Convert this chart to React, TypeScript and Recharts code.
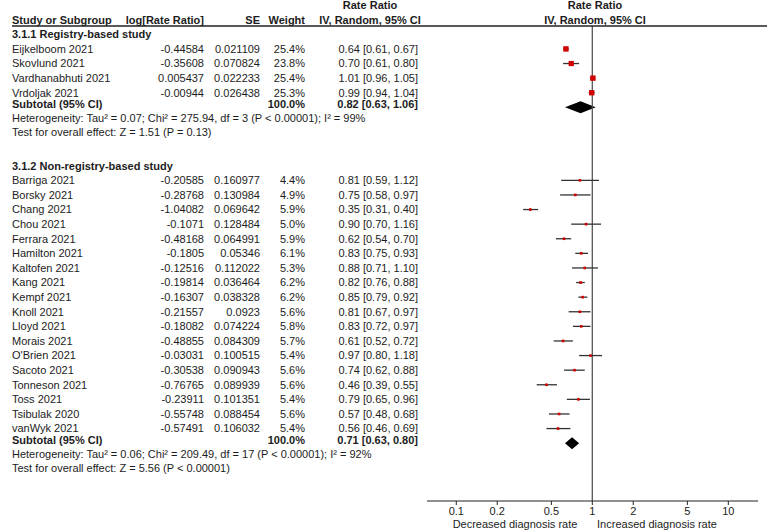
import { ComposedChart, XAxis, YAxis, Scatter, ReferenceLine, ReferenceArea } from "recharts";

const FONT = "'Liberation Sans', Arial, sans-serif";
const INK = "#1c1c1c";

// 3.1.1 Registry-based study
const regNames = ["Eijkelboom 2021", "Skovlund 2021", "Vardhanabhuti 2021", "Vrdoljak 2021"];
const regLogRR = ["-0.44584", "-0.35608", "0.005437", "-0.00944"];
const regSE = ["0.021109", "0.070824", "0.022233", "0.026438"];
const regWeight = [25.4, 23.8, 25.4, 25.3];
const regRR = [0.64, 0.7, 1.01, 0.99];
const regLo = [0.61, 0.61, 0.96, 0.94];
const regHi = [0.67, 0.8, 1.05, 1.04];
const regSubtotal = [0.82, 0.63, 1.06];
const regHet = "Heterogeneity: Tau\u00b2 = 0.07; Chi\u00b2 = 275.94, df = 3 (P < 0.00001); I\u00b2 = 99%";
const regTest = "Test for overall effect: Z = 1.51 (P = 0.13)";

// 3.1.2 Non-registry-based study
const nonNames = [
  "Barriga 2021", "Borsky 2021", "Chang 2021", "Chou 2021", "Ferrara 2021", "Hamilton 2021",
  "Kaltofen 2021", "Kang 2021", "Kempf 2021", "Knoll 2021", "Lloyd 2021", "Morais 2021",
  "O'Brien 2021", "Sacoto 2021", "Tonneson 2021", "Toss 2021", "Tsibulak 2020", "vanWyk 2021",
];
const nonLogRR = [
  "-0.20585", "-0.28768", "-1.04082", "-0.1071", "-0.48168", "-0.1805", "-0.12516", "-0.19814",
  "-0.16307", "-0.21557", "-0.18082", "-0.48855", "-0.03031", "-0.30538", "-0.76765", "-0.23911",
  "-0.55748", "-0.57491",
];
const nonSE = [
  "0.160977", "0.130984", "0.069642", "0.128484", "0.064991", "0.05346", "0.112022", "0.036464",
  "0.038328", "0.0923", "0.074224", "0.084309", "0.100515", "0.090943", "0.089939", "0.101351",
  "0.088454", "0.106032",
];
const nonWeight = [4.4, 4.9, 5.9, 5.0, 5.9, 6.1, 5.3, 6.2, 6.2, 5.6, 5.8, 5.7, 5.4, 5.6, 5.6, 5.4, 5.6, 5.4];
const nonRR = [0.81, 0.75, 0.35, 0.9, 0.62, 0.83, 0.88, 0.82, 0.85, 0.81, 0.83, 0.61, 0.97, 0.74, 0.46, 0.79, 0.57, 0.56];
const nonLo = [0.59, 0.58, 0.31, 0.7, 0.54, 0.75, 0.71, 0.76, 0.79, 0.67, 0.72, 0.52, 0.8, 0.62, 0.39, 0.65, 0.48, 0.46];
const nonHi = [1.12, 0.97, 0.4, 1.16, 0.7, 0.93, 1.1, 0.88, 0.92, 0.97, 0.97, 0.72, 1.18, 0.88, 0.55, 0.96, 0.68, 0.69];
const nonSubtotal = [0.71, 0.63, 0.8];
const nonHet = "Heterogeneity: Tau\u00b2 = 0.06; Chi\u00b2 = 209.49, df = 17 (P < 0.00001); I\u00b2 = 92%";
const nonTest = "Test for overall effect: Z = 5.56 (P < 0.00001)";

const xTicks = [0.1, 0.2, 0.5, 1, 2, 5, 10];

const ci = (rr: number, lo: number, hi: number) =>
  `${rr.toFixed(2)} [${lo.toFixed(2)}, ${hi.toFixed(2)}]`;

type Row = {
  row: number;
  kind: "group" | "study" | "subtotal" | "note";
  label: string;
  logrr?: string;
  se?: string;
  weight?: string;
  ci?: string;
};

type Study = { row: number; rr: number; lo: number; hi: number; w: number };

const tableRows: Row[] = [];
const studies: Study[] = [];
const subtotals: Study[] = [];

function addGroup(
  start: number, title: string, names: string[], logrr: string[], se: string[], w: number[],
  rr: number[], lo: number[], hi: number[], sub: number[], het: string, test: string,
) {
  tableRows.push({ row: start, kind: "group", label: title });
  names.forEach((n, i) => {
    const r = start + 1 + i;
    tableRows.push({
      row: r, kind: "study", label: n, logrr: logrr[i], se: se[i],
      weight: w[i].toFixed(1) + "%", ci: ci(rr[i], lo[i], hi[i]),
    });
    studies.push({ row: r, rr: rr[i], lo: lo[i], hi: hi[i], w: w[i] });
  });
  const last = start + names.length;
  tableRows.push({ row: last + 0.78, kind: "subtotal", label: "Subtotal (95% CI)", weight: "100.0%", ci: ci(sub[0], sub[1], sub[2]) });
  subtotals.push({ row: last + 1, rr: sub[0], lo: sub[1], hi: sub[2], w: 100 });
  tableRows.push({ row: last + 1.72, kind: "note", label: het });
  tableRows.push({ row: last + 2.72, kind: "note", label: test });
}

addGroup(0, "3.1.1 Registry-based study", regNames, regLogRR, regSE, regWeight, regRR, regLo, regHi, regSubtotal, regHet, regTest);
addGroup(9, "3.1.2 Non-registry-based study", nonNames, nonLogRR, nonSE, nonWeight, nonRR, nonLo, nonHi, nonSubtotal, nonHet, nonTest);

const COL_LOG = 204;
const COL_SE = 260;
const COL_W = 305;
const COL_CI = 418;
const FS = 11;

function RowTick(props: any) {
  const { y, payload } = props;
  const r = tableRows.find((t) => t.row === payload.value);
  if (!r) return null;
  const bold = r.kind === "group" || r.kind === "subtotal";
  const common = { y, dy: "0.35em", fontSize: FS, fontFamily: FONT, fill: INK, fontWeight: bold ? 700 : 400 };
  return (
    <g>
      <text x={12} textAnchor="start" {...common}>{r.label}</text>
      {r.logrr && <text x={COL_LOG} textAnchor="end" {...common}>{r.logrr}</text>}
      {r.se && <text x={COL_SE} textAnchor="end" {...common}>{r.se}</text>}
      {r.weight && <text x={COL_W} textAnchor="end" {...common}>{r.weight}</text>}
      {r.ci && <text x={COL_CI} textAnchor="end" {...common}>{r.ci}</text>}
    </g>
  );
}

function Square(props: any) {
  const { cx, cy, payload } = props;
  const s = Math.max(2.6, 5.4 * Math.sqrt(payload.w / 25.4));
  return <rect x={cx - s / 2} y={cy - s / 2} width={s} height={s} fill="#d10000" />;
}

const diamond = (d: Study) => (p: any) => {
  const { x, y, width, height } = p;
  const f = (Math.log(d.rr) - Math.log(d.lo)) / (Math.log(d.hi) - Math.log(d.lo));
  const cx = x + f * width;
  const pts = `${x},${y + height / 2} ${cx},${y} ${x + width},${y + height / 2} ${cx},${y + height}`;
  return <polygon points={pts} fill="#000" />;
};

export default function App() {
  const hdr = { fontSize: FS, fontFamily: FONT, fill: INK, fontWeight: 700 };
  return (
    <div style={{ position: "relative", width: 770, height: 531, background: "#fff" }}>
      <style>{"body{margin:0}"}</style>
      <ComposedChart width={770} height={531} margin={{ top: 26, right: 12, bottom: 0, left: 0 }}>
        <XAxis
          type="number"
          dataKey="rr"
          scale="log"
          domain={[0.0609, 16.53]}
          allowDataOverflow
          ticks={xTicks}
          interval={0}
          height={30}
          tickSize={4}
          tickMargin={2}
          axisLine={{ stroke: "#222", strokeWidth: 1.2 }}
          tickLine={{ stroke: "#222" }}
          tick={{ fontSize: 11, fontFamily: FONT, fill: INK }}
        />
        <YAxis
          type="number"
          dataKey="row"
          domain={[-0.57, 31.96]}
          allowDataOverflow
          reversed
          ticks={tableRows.map((t) => t.row)}
          interval={0}
          width={427}
          axisLine={false}
          tickLine={false}
          tick={<RowTick />}
        />
        <ReferenceLine x={1} stroke="#555" strokeWidth={1.3} />
        {studies.map((s, i) => (
          <ReferenceLine
            key={"ci" + i}
            segment={[{ x: s.lo, y: s.row }, { x: s.hi, y: s.row }]}
            stroke="#333"
            strokeWidth={1.3}
          />
        ))}
        {subtotals.map((s, i) => (
          <ReferenceArea
            key={"d" + i}
            x1={s.lo}
            x2={s.hi}
            y1={s.row - 0.41}
            y2={s.row + 0.41}
            shape={diamond(s)}
          />
        ))}
        <Scatter data={studies} dataKey="row" shape={<Square />} isAnimationActive={false} />
      </ComposedChart>
      <svg width={770} height={531} style={{ position: "absolute", left: 0, top: 0, pointerEvents: "none" }}>
        <text x={370} y={5} dy="0.35em" textAnchor="middle" {...hdr}>Rate Ratio</text>
        <text x={595} y={5} dy="0.35em" textAnchor="middle" {...hdr}>Rate Ratio</text>
        <text x={12} y={20} dy="0.35em" textAnchor="start" {...hdr}>Study or Subgroup</text>
        <text x={COL_LOG} y={20} dy="0.35em" textAnchor="end" {...hdr}>log[Rate Ratio]</text>
        <text x={COL_SE} y={20} dy="0.35em" textAnchor="end" {...hdr}>SE</text>
        <text x={COL_W} y={20} dy="0.35em" textAnchor="end" {...hdr}>Weight</text>
        <text x={370} y={20} dy="0.35em" textAnchor="middle" {...hdr}>IV, Random, 95% CI</text>
        <text x={595} y={20} dy="0.35em" textAnchor="middle" {...hdr}>IV, Random, 95% CI</text>
        <line x1={12} x2={767} y1={26} y2={26} stroke="#222" strokeWidth={1.3} />
        <text x={515} y={524} dy="0.35em" textAnchor="middle" fontSize={FS} fontFamily={FONT} fill={INK}>
          Decreased diagnosis rate
        </text>
        <text x={657} y={524} dy="0.35em" textAnchor="middle" fontSize={FS} fontFamily={FONT} fill={INK}>
          Increased diagnosis rate
        </text>
      </svg>
    </div>
  );
}
